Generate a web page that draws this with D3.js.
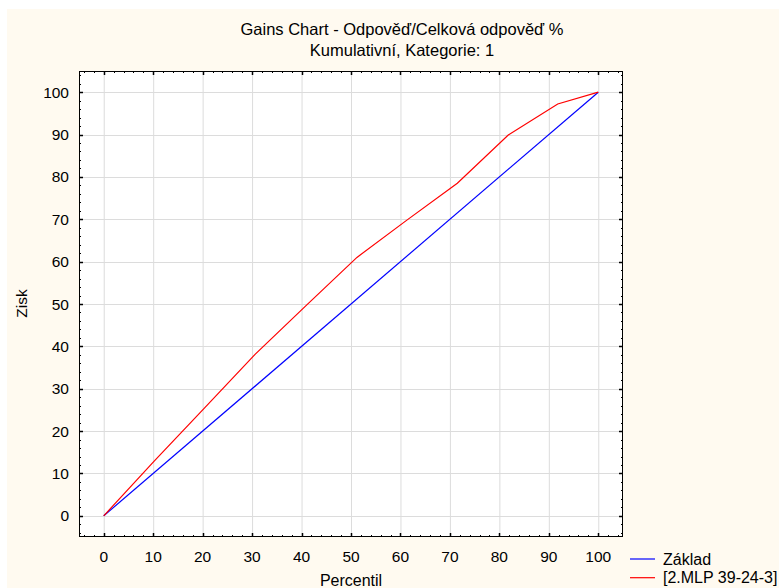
<!DOCTYPE html>
<html><head><meta charset="utf-8">
<script src="https://cdn.jsdelivr.net/npm/d3@7"></script>
<style>body{margin:0;background:#fff}svg{display:block}text{font-family:"Liberation Sans",Arial,sans-serif}</style>
</head><body><svg id="c" width="779" height="588"></svg>
<script>
const titleLines = ["Gains Chart - Odpověď/Celková odpověď %", "Kumulativní, Kategorie: 1"];
const xLabel = "Percentil";
const yLabel = "Zisk";
const xTicks = [0,10,20,30,40,50,60,70,80,90,100];
const yTicks = [0,10,20,30,40,50,60,70,80,90,100];
const seriesNames = ["Základ", "[2.MLP 39-24-3]"];
const baseX = [0, 100];
const baseY = [0, 100];
const modelX = [0, 10.2, 20.4, 30.6, 40.8, 51.2, 61.3, 71.5, 81.8, 91.8, 100];
const modelY = [0, 12.9, 25.5, 38.1, 49.5, 61.0, 69.8, 78.5, 89.9, 97.2, 100];
const colors = ["#0000ff", "#ff0000"];

const svg = d3.select("#c");
svg.append("rect").attr("x",7).attr("y",9).attr("width",772).attr("height",579).attr("fill","#fffaf0");

const L=79, R=623, T=71, B=537;
const x = d3.scaleLinear().domain([-5,105]).range([L,R]);
const y = d3.scaleLinear().domain([-5,105]).range([B,T]);

svg.append("rect").attr("x",L).attr("y",T).attr("width",R-L).attr("height",B-T).attr("fill","#fff");

// grid
const g = svg.append("g");
g.selectAll(".gx").data(xTicks).join("line").attr("x1",d=>x(d)+0.5).attr("x2",d=>x(d)+0.5).attr("y1",T).attr("y2",B).attr("stroke","#dcdcdc").attr("stroke-width",1);
g.selectAll(".gy").data(yTicks).join("line").attr("y1",d=>Math.round(y(d))+0.5).attr("y2",d=>Math.round(y(d))+0.5).attr("x1",L).attr("x2",R).attr("stroke","#dcdcdc").attr("stroke-width",1);

// lines
const line = d3.line().x(d=>x(d[0])).y(d=>y(d[1]));
svg.append("path").datum(baseX.map((v,i)=>[v,baseY[i]])).attr("d",line).attr("fill","none").attr("stroke",colors[0]).attr("stroke-width",1.2);
svg.append("path").datum(modelX.map((v,i)=>[v,modelY[i]])).attr("d",line).attr("fill","none").attr("stroke",colors[1]).attr("stroke-width",1.2);

// frame
svg.append("rect").attr("x",L+0.5).attr("y",T+0.5).attr("width",R-L-1).attr("height",B-T-1).attr("fill","none").attr("stroke","#000").attr("stroke-width",1);

// ticks (inside) on all four sides
const minor = d3.range(-4,105,2);
function tickLen(d){return d%10===0?4:2;}
const tk = svg.append("g").attr("stroke","#000");
minor.forEach(d=>{
  const px = Math.round(x(d))+0.5, py = Math.round(y(d))+0.5, len = tickLen(d), w = d%10===0?1.5:1;
  tk.append("line").attr("x1",px).attr("x2",px).attr("y1",B).attr("y2",B-len).attr("stroke-width",w);
  tk.append("line").attr("x1",px).attr("x2",px).attr("y1",T).attr("y2",T+len).attr("stroke-width",w);
  tk.append("line").attr("y1",py).attr("y2",py).attr("x1",L).attr("x2",L+len).attr("stroke-width",w);
  tk.append("line").attr("y1",py).attr("y2",py).attr("x1",R).attr("x2",R-len).attr("stroke-width",w);
});

// tick labels
svg.selectAll(".xl").data(xTicks).join("text").attr("x",d=>x(d)).attr("y",562).attr("text-anchor","middle").attr("font-size",15.5).text(d=>d);
svg.selectAll(".yl").data(yTicks).join("text").attr("x",69).attr("y",d=>y(d)+5.5).attr("text-anchor","end").attr("font-size",15.5).text(d=>d);

// titles
svg.selectAll(".t").data(titleLines).join("text").attr("x",402).attr("y",(d,i)=>35+i*20.5).attr("text-anchor","middle").attr("font-size",16.5).text(d=>d);
svg.append("text").attr("x",351).attr("y",586).attr("text-anchor","middle").attr("font-size",16).text(xLabel);
svg.append("text").attr("transform","translate(27,303.5) rotate(-90)").attr("text-anchor","middle").attr("font-size",15.5).text(yLabel);

// legend
seriesNames.forEach((n,i)=>{
  const ly = 559 + i*18.7;
  svg.append("line").attr("x1",630).attr("x2",655).attr("y1",ly).attr("y2",ly).attr("stroke",colors[i]).attr("stroke-width",1.2);
  svg.append("text").attr("x",663).attr("y",ly+5.5).attr("font-size",16).text(n);
});
</script></body></html>
